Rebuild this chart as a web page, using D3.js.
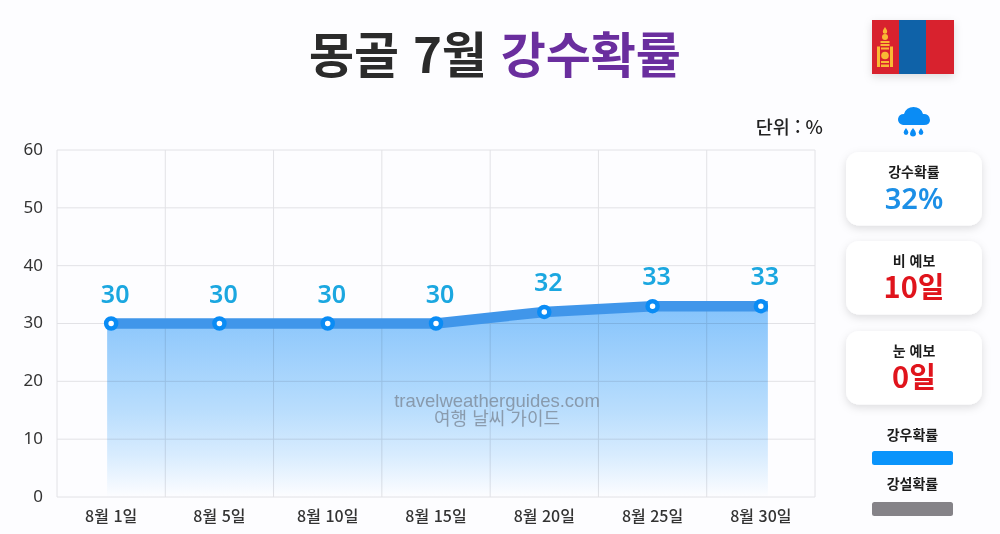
<!DOCTYPE html>
<html lang="ko">
<head>
<meta charset="utf-8">
<script src="https://cdn.jsdelivr.net/npm/d3@7"></script>
<style>
html, body { margin: 0; padding: 0; background: #fdfdff; }
svg { display: block; }
text { font-family: "Noto Sans CJK KR", "Noto Sans", sans-serif; }
text.num { font-family: "Noto Sans", "Noto Sans CJK KR", sans-serif; }
text.mark { font-family: "Liberation Sans", sans-serif; }
</style>
</head>
<body>
<svg id="chart" width="1000" height="534"></svg>
<script>
// ---- Data ----
const dates = ['8월 1일', '8월 5일', '8월 10일', '8월 15일', '8월 20일', '8월 25일', '8월 30일'];
const rainChance = [30, 30, 30, 30, 32, 33, 33];
const yTicks = [0, 10, 20, 30, 40, 50, 60];
const cardTitles = ['강수확률', '비 예보', '눈 예보'];
const cardValues = ['32%', '10일', '0일'];
const legendLabels = ['강우확률', '강설확률'];

const svg = d3.select('#chart');
const defs = svg.append('defs');

const margin = {top: 150, right: 185, bottom: 37, left: 57};
const width = 1000, height = 534;

const x = d3.scaleBand().domain(dates).range([margin.left, width - margin.right]);
const y = d3.scaleLinear().domain([0, 60]).range([height - margin.bottom, margin.top]);
const px = d => x(d) + x.bandwidth() / 2;

// ---- Gradients and shadows ----
const grad = defs.append('linearGradient').attr('id', 'areaFill')
    .attr('x1', 0).attr('y1', 0).attr('x2', 0).attr('y2', 1);
grad.append('stop').attr('offset', '0%').attr('stop-color', '#7fc2fb');
grad.append('stop').attr('offset', '55%').attr('stop-color', '#b8defd');
grad.append('stop').attr('offset', '78%').attr('stop-color', '#d8edfe');
grad.append('stop').attr('offset', '100%').attr('stop-color', '#ffffff');

const shadow = defs.append('filter').attr('id', 'cardShadow')
    .attr('x', '-20%').attr('y', '-20%').attr('width', '140%').attr('height', '150%');
shadow.append('feDropShadow').attr('dx', 0).attr('dy', 3).attr('stdDeviation', 4)
    .attr('flood-color', '#000').attr('flood-opacity', 0.13);

// ---- Title ----
const title = svg.append('text').attr('x', 495).attr('y', 73)
    .attr('text-anchor', 'middle').attr('font-size', 49).attr('font-weight', 700);
title.append('tspan').attr('fill', '#2b2b2b').text('몽골 7월 ');
title.append('tspan').attr('fill', '#6a2e9e').text('강수확률');

svg.append('text').attr('x', 823).attr('y', 134).attr('text-anchor', 'end')
    .attr('font-size', 18.5).attr('font-weight', 500).attr('fill', '#222').text('단위 : %');

// ---- Grid ----
const gridColor = '#e2e2e6';
svg.append('g').selectAll('line').data(yTicks).join('line')
    .attr('x1', margin.left).attr('x2', width - margin.right)
    .attr('y1', d => y(d)).attr('y2', d => y(d))
    .attr('stroke', gridColor);

const vEdges = dates.map(d => x(d)).concat(width - margin.right);
svg.append('g').selectAll('line').data(vEdges).join('line')
    .attr('x1', d => d).attr('x2', d => d)
    .attr('y1', margin.top).attr('y2', height - margin.bottom)
    .attr('stroke', gridColor);

// ---- Axes ----
const yAxis = d3.axisLeft(y).tickValues(yTicks).tickSize(0).tickPadding(14);
svg.append('g').attr('transform', `translate(${margin.left},-1)`).call(yAxis)
    .call(g => g.select('.domain').remove())
    .call(g => g.selectAll('text').attr('class', 'num').attr('font-size', 17).attr('fill', '#333'));

const xAxis = d3.axisBottom(x).tickSize(0).tickPadding(14);
svg.append('g').attr('transform', `translate(0,${height - margin.bottom})`).call(xAxis)
    .call(g => g.select('.domain').remove())
    .call(g => g.selectAll('text').attr('font-size', 16).attr('font-weight', 500).attr('fill', '#333')
        .attr('font-family', null));

// ---- Area, line, points ----
// the source area and line overrun the points slightly at both ends
const overLeft = 4, overRight = 7;
const series = rainChance.map((v, i) => ({date: dates[i], v: v, i: i}));
const sx = d => px(d.date) + (d.i === 0 ? -overLeft : d.i === dates.length - 1 ? overRight : 0);

svg.append('path').datum(series)
    .attr('d', d3.area().x(sx).y0(y(0)).y1(d => y(d.v)))
    .attr('fill', 'url(#areaFill)')
    .attr('fill-opacity', 0.95)
    .style('mix-blend-mode', 'multiply');

svg.append('path').datum(series)
    .attr('d', d3.line().x(sx).y(d => y(d.v)))
    .attr('fill', 'none').attr('stroke', '#4096ea').attr('stroke-width', 10.5);

svg.append('g').selectAll('circle').data(series).join('circle')
    .attr('cx', d => px(d.date)).attr('cy', d => y(d.v)).attr('r', 5)
    .attr('fill', '#fff').attr('stroke', '#0a8cf5').attr('stroke-width', 4.5);

svg.append('g').selectAll('text').data(series).join('text')
    .attr('class', 'num')
    .attr('x', d => px(d.date) + 4).attr('y', d => y(d.v) - 21)
    .attr('text-anchor', 'middle').attr('font-size', 25).attr('font-weight', 600)
    .attr('fill', '#1ba7e0').text(d => d.v);

// ---- Watermark ----
svg.append('text').attr('class', 'mark').attr('x', 497).attr('y', 407).attr('text-anchor', 'middle')
    .attr('font-size', 18.5).attr('fill', '#7d8a99').attr('fill-opacity', 0.8).text('travelweatherguides.com');
svg.append('text').attr('x', 497).attr('y', 425).attr('text-anchor', 'middle')
    .attr('font-size', 18).attr('fill', '#7d8a99').attr('fill-opacity', 0.8).text('여행 날씨 가이드');

// ---- Flag ----
const flag = svg.append('g').attr('transform', 'translate(872,20)');
flag.append('rect').attr('width', 82).attr('height', 54).attr('fill', '#d8202f')
    .attr('filter', 'url(#cardShadow)');
flag.append('rect').attr('x', 27).attr('width', 27).attr('height', 54).attr('fill', '#0f62a8');
const sym = flag.append('g').attr('fill', '#f9b934');
sym.append('path').attr('d', 'M13 7 C15 10 15.5 11 15 12.5 A2.2 2.2 0 0 1 11 12.5 C10.5 11 11 10 13 7Z');
sym.append('circle').attr('cx', 13).attr('cy', 17).attr('r', 3);
sym.append('rect').attr('x', 8.5).attr('y', 21).attr('width', 9).attr('height', 2);
sym.append('rect').attr('x', 8.5).attr('y', 24).attr('width', 9).attr('height', 2);
sym.append('rect').attr('x', 5).attr('y', 26.5).attr('width', 3).attr('height', 20.5);
sym.append('rect').attr('x', 18).attr('y', 26.5).attr('width', 3).attr('height', 20.5);
sym.append('rect').attr('x', 9).attr('y', 27.5).attr('width', 8).attr('height', 2);
sym.append('circle').attr('cx', 13).attr('cy', 35.5).attr('r', 3.8);
sym.append('rect').attr('x', 9).attr('y', 41).attr('width', 8).attr('height', 2);
sym.append('rect').attr('x', 9).attr('y', 44.5).attr('width', 8).attr('height', 2.5);

// ---- Rain icon ----
const icon = svg.append('g').attr('fill', '#0a8cf5');
icon.append('path').attr('d', 'M903 125 A5.5 5.5 0 0 1 898 119 A6 6 0 0 1 904 114 A10 10 0 0 1 923 114 A6 6 0 0 1 930 120 Q930 125 924 125 Z');
icon.append('path').attr('d', 'M906 128 q2.3 3 2.3 4.6 a2.3 2.3 0 0 1 -4.6 0 q0 -1.6 2.3 -4.6Z');
icon.append('path').attr('d', 'M913 128 q3 3.5 3 5.6 a3 3 0 0 1 -6 0 q0 -2.1 3 -5.6Z');
icon.append('path').attr('d', 'M921 128 q2.3 3 2.3 4.6 a2.3 2.3 0 0 1 -4.6 0 q0 -1.6 2.3 -4.6Z');

// ---- Summary cards ----
const cardTops = [152, 241, 331];
const cardColors = ['#1c8fe6', '#e0141c', '#e0141c'];
const cards = svg.append('g').selectAll('g').data(cardTitles).join('g')
    .attr('transform', (d, i) => `translate(846,${cardTops[i]})`);
cards.append('rect').attr('width', 136).attr('height', 73.5).attr('rx', 13)
    .attr('fill', '#fff').attr('filter', 'url(#cardShadow)');
cards.append('text').attr('x', 68).attr('y', 25).attr('text-anchor', 'middle')
    .attr('font-size', 14).attr('font-weight', 700).attr('fill', '#1c1c1c').text(d => d);
cards.append('text').attr('x', 68).attr('y', 57).attr('text-anchor', 'middle')
    .attr('font-size', 29).attr('font-weight', (d, i) => i === 0 ? 600 : 700)
    .attr('class', (d, i) => i === 0 ? 'num' : null)
    .attr('fill', (d, i) => cardColors[i]).text((d, i) => cardValues[i]);

// ---- Legend ----
const legendColors = ['#0a94fb', '#858388'];
const legendTops = [451, 502];
const labelBases = [440, 489];
const legend = svg.append('g').selectAll('g').data(legendLabels).join('g');
legend.append('text').attr('x', 912.5).attr('y', (d, i) => labelBases[i])
    .attr('text-anchor', 'middle').attr('font-size', 14).attr('font-weight', 700)
    .attr('fill', '#1c1c1c').text(d => d);
legend.append('rect').attr('x', 872).attr('y', (d, i) => legendTops[i])
    .attr('width', 81).attr('height', 14).attr('rx', 2.5)
    .attr('fill', (d, i) => legendColors[i]);
</script>
</body>
</html>
